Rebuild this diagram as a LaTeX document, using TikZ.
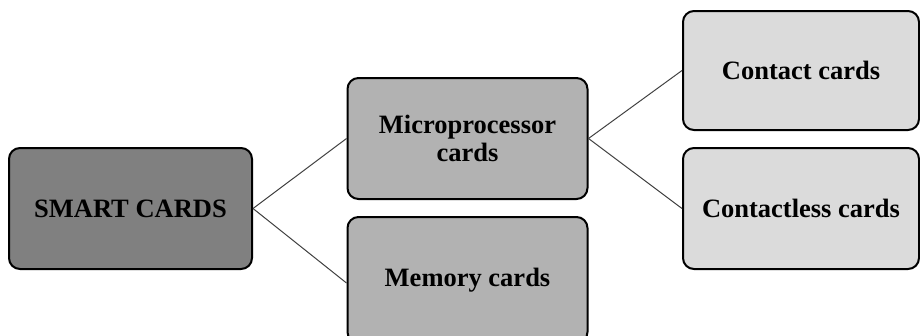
\documentclass[tikz,border=0pt]{standalone}
\usepackage{fontspec}
\setmainfont{Liberation Serif}
\begin{document}
\begin{tikzpicture}[x=1pt,y=-1pt,
  card/.style={draw=black, line width=2pt, rounded corners=11pt,
    minimum width=240pt, minimum height=120pt, align=center,
    inner sep=0pt, font=\fontsize{26.5}{28}\selectfont\bfseries},
  link/.style={draw=black!75, line width=1pt}]
  \useasboundingbox (0,0) rectangle (920,335);
  % root and two levels of card types
  \node[card, fill=black!50, minimum width=243pt, minimum height=121pt] (smart) at (130.5,208.5) {SMART CARDS};
  \node[card, fill=black!30, minimum height=121pt] (micro) at (467.5,138.5) {Microprocessor\\cards};
  \node[card, fill=black!30, minimum height=126pt] (memory) at (467.5,280) {Memory cards};
  \node[card, fill=black!14, minimum width=236pt, minimum height=119pt] (contact) at (801,70.5) {Contact cards};
  \node[card, fill=black!14, minimum width=236pt, minimum height=121pt] (contactless) at (801,208.5) {Contactless cards};
  % connectors
  \draw[link] (smart.east) -- (micro.west);
  \draw[link] (smart.east) -- ([yshift=-3pt]memory.west);
  \draw[link] (micro.east) -- (contact.west);
  \draw[link] (micro.east) -- (contactless.west);
\end{tikzpicture}
\end{document}
